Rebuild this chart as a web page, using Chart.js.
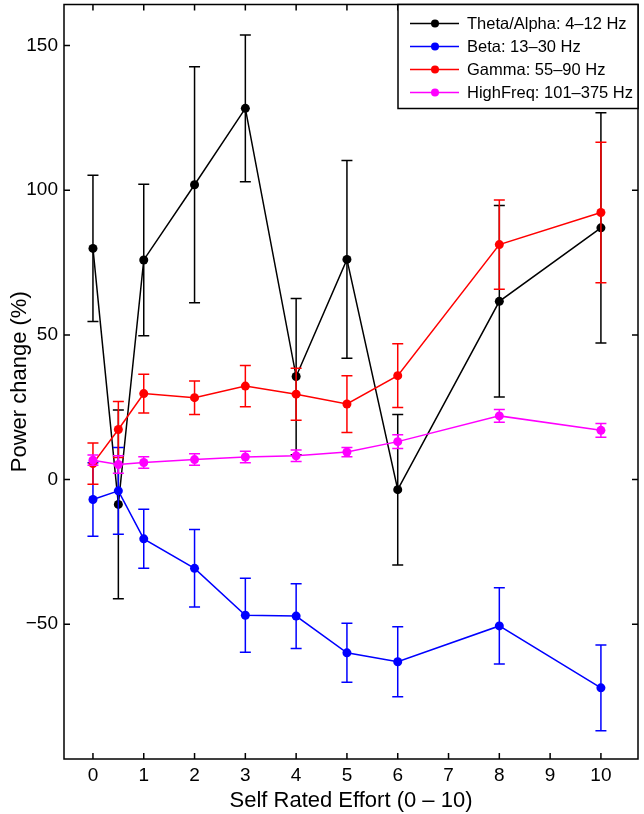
<!DOCTYPE html>
<html>
<head>
<meta charset="utf-8">
<script src="https://cdn.jsdelivr.net/npm/chart.js@4.4.1/dist/chart.umd.min.js"></script>
<style>
  body { margin: 0; background: #fff; }
  canvas { display: block; }
</style>
</head>
<body>
<canvas id="myChart" width="644" height="814"></canvas>
<script>
// data
const effort = [0, 0.5, 1, 2, 3, 4, 5, 6, 8, 10];

const thetaAlpha = [79.9, -8.6, 75.9, 101.9, 128.3, 35.6, 76.1, -3.5, 61.6, 87.0];
const thetaAlphaErr = [25.3, 32.6, 26.2, 40.8, 25.4, 27.0, 34.2, 26.0, 33.1, 39.8];

const beta = [-6.9, -3.9, -20.5, -30.7, -46.9, -47.2, -59.9, -63.0, -50.6, -72.0];
const betaErr = [12.7, 15.0, 10.2, 13.4, 12.8, 11.2, 10.2, 12.1, 13.2, 14.8];

const gamma = [5.5, 17.3, 29.7, 28.3, 32.3, 29.5, 26.1, 35.9, 81.2, 92.3];
const gammaErr = [7.1, 9.7, 6.7, 5.8, 7.1, 9.0, 9.8, 11.0, 15.4, 24.3];

const highFreq = [6.7, 5.2, 5.9, 6.9, 7.8, 8.2, 9.5, 13.1, 22.0, 17.0];
const highFreqErr = [1.8, 3.0, 2.0, 2.0, 2.0, 2.0, 1.6, 2.4, 2.2, 2.4];

const xTicks = [0, 1, 2, 3, 4, 5, 6, 7, 8, 9, 10];
const yTicks = [-50, 0, 50, 100, 150];

const FONT = "'Liberation Sans', Arial, Helvetica, sans-serif";

const toPoints = (vals) => vals.map((v, i) => ({ x: effort[i], y: v }));

const makeSet = (label, vals, err, color, order) => ({
  label: label,
  data: toPoints(vals),
  err: err,
  borderColor: color,
  backgroundColor: color,
  pointBackgroundColor: color,
  pointBorderColor: color,
  pointRadius: 4.5,
  pointBorderWidth: 0,
  borderWidth: 1.5,
  tension: 0,
  order: order,
});

const data = {
  datasets: [
    makeSet("Theta/Alpha: 4\u201312 Hz", thetaAlpha, thetaAlphaErr, "#000000", 4),
    makeSet("Beta: 13\u201330 Hz", beta, betaErr, "#0000ff", 3),
    makeSet("Gamma: 55\u201390 Hz", gamma, gammaErr, "#ff0000", 2),
    makeSet("HighFreq: 101\u2013375 Hz", highFreq, highFreqErr, "#ff00ff", 1),
  ],
};

// error bars, drawn right after each series so the layering follows the series
const errorBars = {
  id: "errorBars",
  afterDatasetDraw(chart, args) {
    const ds = chart.data.datasets[args.index];
    const xs = chart.scales.x;
    const ys = chart.scales.y;
    const ctx = chart.ctx;
    ctx.save();
    ctx.strokeStyle = ds.borderColor;
    ctx.lineWidth = 1.5;
    ds.data.forEach(function (p, i) {
      const px = xs.getPixelForValue(p.x);
      const top = ys.getPixelForValue(p.y + ds.err[i]);
      const bot = ys.getPixelForValue(p.y - ds.err[i]);
      ctx.beginPath();
      ctx.moveTo(px, top);
      ctx.lineTo(px, bot);
      ctx.moveTo(px - 5.5, top);
      ctx.lineTo(px + 5.5, top);
      ctx.moveTo(px - 5.5, bot);
      ctx.lineTo(px + 5.5, bot);
      ctx.stroke();
    });
    ctx.restore();
  },
};

// matlab style box with inward ticks, plus the boxed legend
const frameAndLegend = {
  id: "frameAndLegend",
  afterDraw(chart) {
    const ctx = chart.ctx;
    const a = chart.chartArea;
    const xs = chart.scales.x;
    const ys = chart.scales.y;
    ctx.save();
    ctx.strokeStyle = "#000";
    ctx.lineWidth = 1.5;
    ctx.strokeRect(a.left, a.top, a.right - a.left, a.bottom - a.top);
    ctx.beginPath();
    xTicks.forEach(function (t) {
      const px = xs.getPixelForValue(t);
      ctx.moveTo(px, a.bottom);
      ctx.lineTo(px, a.bottom - 6);
      ctx.moveTo(px, a.top);
      ctx.lineTo(px, a.top + 6);
    });
    yTicks.forEach(function (t) {
      const py = ys.getPixelForValue(t);
      ctx.moveTo(a.left, py);
      ctx.lineTo(a.left + 6, py);
      ctx.moveTo(a.right, py);
      ctx.lineTo(a.right - 6, py);
    });
    ctx.stroke();

    // legend
    const box = { x: 398, y: a.top, w: a.right - 398, h: 104 };
    ctx.fillStyle = "#fff";
    ctx.fillRect(box.x, box.y, box.w, box.h);
    ctx.strokeRect(box.x, box.y, box.w, box.h);
    ctx.font = "16.5px " + FONT;
    ctx.textBaseline = "middle";
    ctx.textAlign = "left";
    chart.data.datasets.forEach(function (ds, i) {
      const ry = box.y + 19 + i * 23;
      ctx.strokeStyle = ds.borderColor;
      ctx.beginPath();
      ctx.moveTo(410, ry);
      ctx.lineTo(459, ry);
      ctx.stroke();
      ctx.fillStyle = ds.borderColor;
      ctx.beginPath();
      ctx.arc(435, ry, 4, 0, Math.PI * 2);
      ctx.fill();
      ctx.fillStyle = "#000";
      ctx.fillText(ds.label, 467, ry + 1);
    });
    ctx.restore();
  },
};

const config = {
  type: "line",
  data,
  options: {
    responsive: false,
    devicePixelRatio: 1,
    animation: false,
    layout: { padding: { top: 4, right: 6, left: 0, bottom: 0 } },
    plugins: {
      legend: { display: false },
      tooltip: { enabled: false },
    },
    scales: {
      x: {
        type: "linear",
        min: -0.57,
        max: 10.73,
        afterBuildTicks: (scale) => {
          scale.ticks = xTicks.map((v) => ({ value: v }));
        },
        afterFit: (scale) => {
          scale.height = 55;
          scale.paddingLeft = 0;
          scale.paddingRight = 0;
        },
        grid: { display: false, drawTicks: false },
        border: { display: false },
        ticks: {
          color: "#000",
          padding: 5,
          maxRotation: 0,
          autoSkip: false,
          font: { family: FONT, size: 19 },
        },
        title: {
          display: true,
          text: "Self Rated Effort (0 \u2013 10)",
          color: "#000",
          font: { family: FONT, size: 22 },
          padding: { top: 0, bottom: 0 },
        },
      },
      y: {
        type: "linear",
        min: -96.6,
        max: 164.2,
        afterBuildTicks: (scale) => {
          scale.ticks = yTicks.map((v) => ({ value: v }));
        },
        afterFit: (scale) => {
          scale.width = 64;
          scale.paddingTop = 0;
          scale.paddingBottom = 0;
        },
        grid: { display: false, drawTicks: false },
        border: { display: false },
        ticks: {
          color: "#000",
          padding: 6,
          autoSkip: false,
          font: { family: FONT, size: 19 },
          callback: (v) => (v < 0 ? "\u2212" + Math.abs(v) : "" + v),
        },
        title: {
          display: true,
          text: "Power change (%)",
          color: "#000",
          font: { family: FONT, size: 22 },
          padding: { top: 7, bottom: 0 },
        },
      },
    },
  },
  plugins: [errorBars, frameAndLegend],
};

const myChart = new Chart(document.getElementById("myChart"), config);
</script>
</body>
</html>
